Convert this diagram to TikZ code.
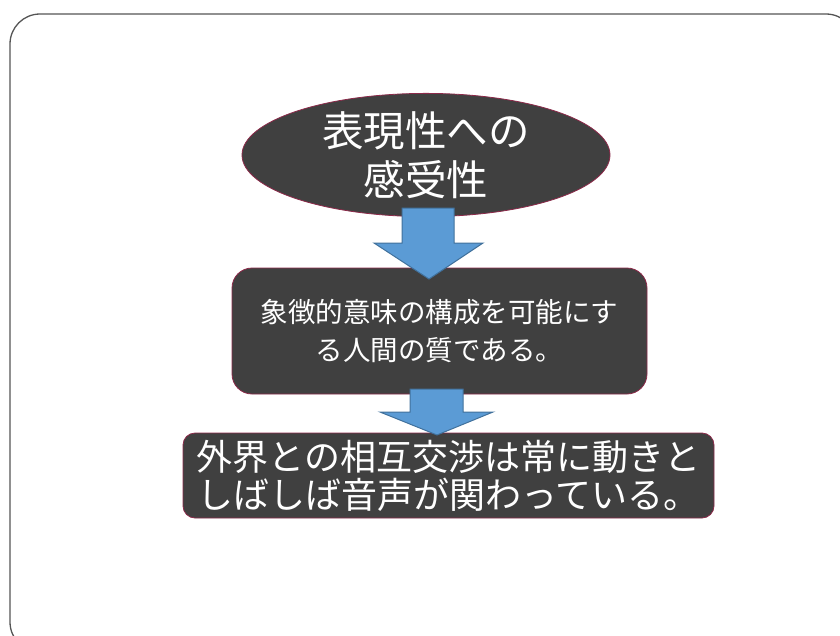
\documentclass[tikz,border=0pt]{standalone}
\usepackage{fontspec}
\newfontfamily\jp{Noto Sans CJK JP}
\usetikzlibrary{shapes.geometric}
\definecolor{boxfill}{HTML}{404040}
\definecolor{boxline}{HTML}{8C2A4A}
\definecolor{arrowfill}{HTML}{5B9BD5}
\definecolor{arrowline}{HTML}{41719C}
\definecolor{framecol}{HTML}{555555}
\tikzset{
  darkbox/.style={draw=boxline, fill=boxfill, line width=0.8pt, text=white, align=center, inner sep=0pt},
  blockarrow/.style={draw=arrowline, fill=arrowfill, line width=1pt, line join=miter},
}
\begin{document}
\begin{tikzpicture}[x=1pt,y=-1pt]
\useasboundingbox (0,0) rectangle (840,635);
\begin{scope}
\clip (0,0) rectangle (840,635);
\draw[framecol, line width=1.3pt, rounded corners=30pt] (10,14) rectangle (856,652);
\end{scope}
\node[darkbox, ellipse, minimum width=368pt, minimum height=108pt,
  font=\jp\fontsize{41.5}{49}\selectfont] (e) at (426,155) {表現性への\\感受性};
\node[darkbox, rectangle, rounded corners=20pt, minimum width=415pt, minimum height=126pt,
  font=\jp\fontsize{27.5}{38}\selectfont] (b) at (439.5,331) {象徴的意味の構成を可能にす\\る人間の質である。};
\node[darkbox, rectangle, rounded corners=12pt, minimum width=531pt, minimum height=85pt,
  font=\jp\fontsize{36}{38}\selectfont] (c) at (448.5,475.5) {外界との相互交渉は常に動きと\\しばしば音声が関わっている。};
\draw[blockarrow] (402,208) -- (454,208) -- (454,243) -- (483,243) -- (429,279) -- (374,243) -- (402,243) -- cycle;
\draw[blockarrow] (410,389) -- (463,389) -- (463,412) -- (493,412) -- (437,435) -- (380,412) -- (410,412) -- cycle;
\end{tikzpicture}
\end{document}
